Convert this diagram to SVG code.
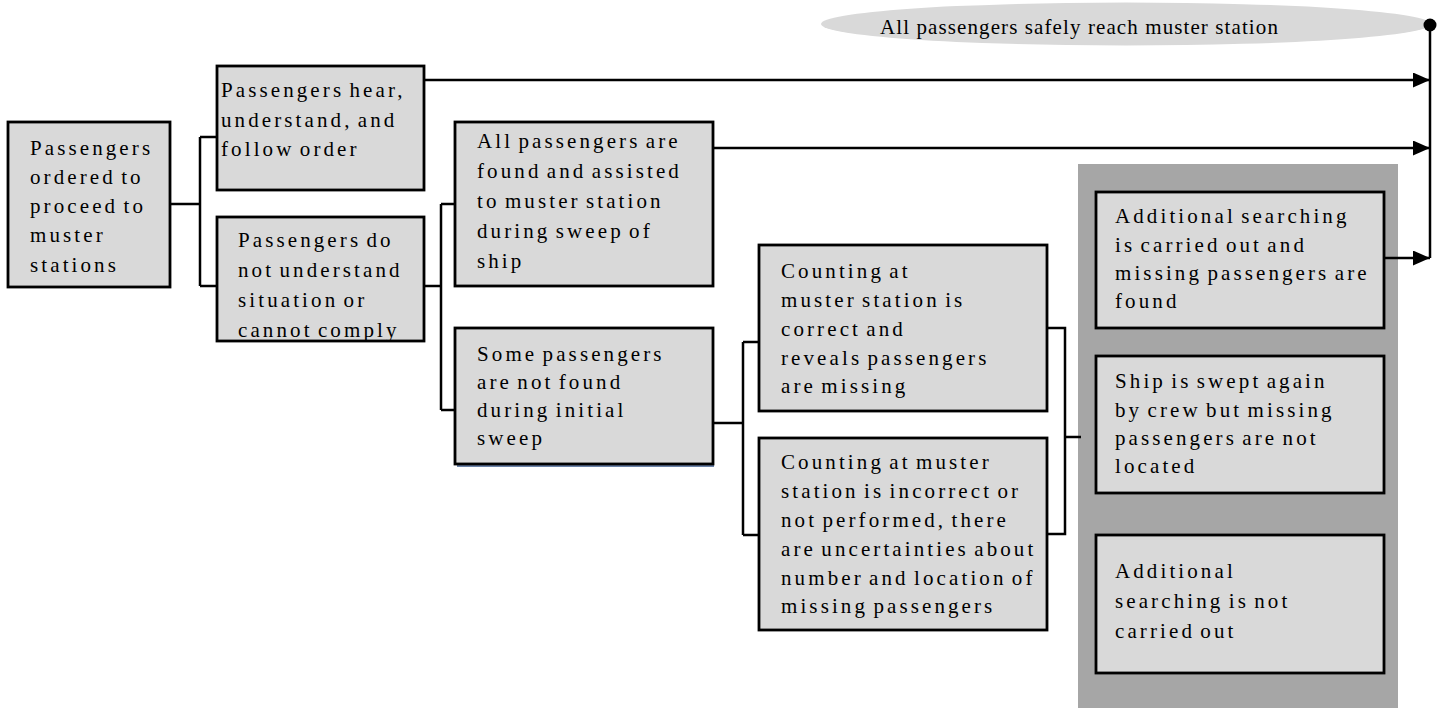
<svg xmlns="http://www.w3.org/2000/svg" width="1445" height="711" viewBox="0 0 1445 711">
<defs>
<marker id="arr" markerUnits="userSpaceOnUse" markerWidth="18" markerHeight="16" refX="17" refY="7.5" orient="auto">
<path d="M0,0 L17,7.5 L0,15 z" fill="#000"/>
</marker>
<style>
.box{fill:#d9d9d9;stroke:#000;stroke-width:2.8}
.t{font-family:"Liberation Serif","Times New Roman",serif;font-size:21px;fill:#000;letter-spacing:3.1px;word-spacing:-3px}
.et{font-family:"Liberation Serif","Times New Roman",serif;font-size:21px;fill:#000;letter-spacing:1.1px}
.c{fill:none;stroke:#000;stroke-width:2.5}
</style>
</defs>
<rect x="0" y="0" width="1445" height="711" fill="#fff"/>
<rect id="region" x="1078" y="164" width="320" height="544" fill="#a6a6a6"/>
<g id="outcome">
<ellipse cx="1126" cy="24" rx="305" ry="21.5" fill="#d9d9d9"/>
<text class="et" x="880" y="34">All passengers safely reach muster station</text>
</g>
<g id="connectors">
<path class="c" d="M170,204 H200 M200,137 V286 M200,137 H217 M200,286 H217"/>
<path class="c" d="M424,286 H441 M441,204 V410 M441,204 H455 M441,410 H455"/>
<path class="c" d="M713,423 H743 M743,342 V535 M743,342 H760 M743,535 H760"/>
<path class="c" d="M1047,328 H1065 V534 H1047 M1065,437 H1081"/>
<path class="c" d="M1430,25 V258"/>
<path class="c" d="M424,80 H1430" marker-end="url(#arr)"/>
<path class="c" d="M713,148 H1430" marker-end="url(#arr)"/>
<path class="c" d="M1384,258 H1430" marker-end="url(#arr)"/>
<circle cx="1430" cy="25" r="6.5" fill="#000"/>
</g>
<g id="n1">
<rect class="box" x="8" y="122" width="162" height="165"/>
<text class="t" x="30" y="155">Passengers</text>
<text class="t" x="30" y="184">ordered to</text>
<text class="t" x="30" y="213">proceed to</text>
<text class="t" x="30" y="242">muster</text>
<text class="t" x="30" y="272">stations</text>
</g>
<g id="n2">
<rect class="box" x="217" y="66" width="207" height="124"/>
<text class="t" x="221" y="97">Passengers hear,</text>
<text class="t" x="221" y="126.5">understand, and</text>
<text class="t" x="221" y="156">follow order</text>
</g>
<g id="n3">
<rect class="box" x="217" y="217" width="207" height="124"/>
<text class="t" x="238" y="247">Passengers do</text>
<text class="t" x="238" y="277">not understand</text>
<text class="t" x="238" y="307">situation or</text>
<text class="t" x="238" y="337">cannot comply</text>
</g>
<g id="n4">
<rect class="box" x="455" y="122" width="258" height="164"/>
<text class="t" x="477" y="148">All passengers are</text>
<text class="t" x="477" y="178">found and assisted</text>
<text class="t" x="477" y="208">to muster station</text>
<text class="t" x="477" y="238">during sweep of</text>
<text class="t" x="477" y="268">ship</text>
</g>
<g id="n5">
<line x1="457" y1="466" x2="714" y2="466" stroke="#3a5a8c" stroke-width="1.5"/>
<rect class="box" x="455" y="328" width="258" height="136"/>
<text class="t" x="477" y="361">Some passengers</text>
<text class="t" x="477" y="389">are not found</text>
<text class="t" x="477" y="417">during initial</text>
<text class="t" x="477" y="445">sweep</text>
</g>
<g id="n6">
<rect class="box" x="759" y="245" width="288" height="166"/>
<text class="t" x="781" y="278">Counting at</text>
<text class="t" x="781" y="307">muster station is</text>
<text class="t" x="781" y="336">correct and</text>
<text class="t" x="781" y="365">reveals passengers</text>
<text class="t" x="781" y="393">are missing</text>
</g>
<g id="n7">
<rect class="box" x="759" y="438" width="288" height="192"/>
<text class="t" x="781" y="469">Counting at muster</text>
<text class="t" x="781" y="498">station is incorrect or</text>
<text class="t" x="781" y="527">not performed, there</text>
<text class="t" x="781" y="556">are uncertainties about</text>
<text class="t" x="781" y="585">number and location of</text>
<text class="t" x="781" y="613">missing passengers</text>
</g>
<g id="n8">
<rect class="box" x="1096" y="192" width="288" height="136"/>
<text class="t" x="1115" y="223">Additional searching</text>
<text class="t" x="1115" y="252">is carried out and</text>
<text class="t" x="1115" y="280">missing passengers are</text>
<text class="t" x="1115" y="308">found</text>
</g>
<g id="n9">
<rect class="box" x="1096" y="356" width="288" height="137"/>
<text class="t" x="1115" y="388">Ship is swept again</text>
<text class="t" x="1115" y="417">by crew but missing</text>
<text class="t" x="1115" y="445">passengers are not</text>
<text class="t" x="1115" y="473">located</text>
</g>
<g id="n10">
<rect class="box" x="1096" y="535" width="288" height="138"/>
<text class="t" x="1115" y="578">Additional</text>
<text class="t" x="1115" y="608">searching is not</text>
<text class="t" x="1115" y="638">carried out</text>
</g>
</svg>
